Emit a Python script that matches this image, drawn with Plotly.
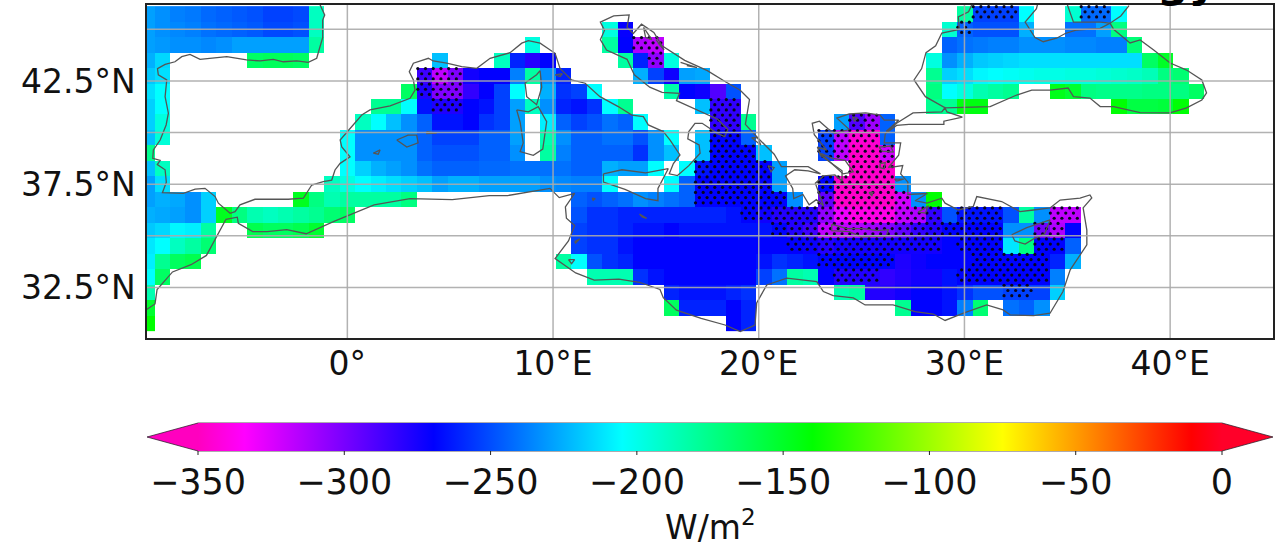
import plotly.graph_objects as go
import numpy as np

W, H = 1277, 547
# grid of the field: centres on multiples of 0.75 degrees
lon_start, lat_start, step = -9.75, 30.75, 0.75
n_lon, n_lat = 69, 21

# Net heat flux, W/m2: each row is a list of (first column index, values)
lat_45_75 = [(0,[-229,-233,-237,-239,-243,-245,-247,-249,-253,-253,-251,-189]),(53,[-181,-253,-253,-253,-205]),(60,[-193,-243,-243,-205])]
lat_45_00 = [(0,[-229,-233,-235,-237,-241,-243,-245,-247,-251,-251,-249,-189]),(30,[-197,-271]),(52,[-193,-245,-249,-249,-249,-225]),(60,[-241,-241,-229,-173])]
lat_44_25 = [(0,[-229,-231,-233,-233,-235,-233,-229,-229,-229,-229,-229,-181]),(25,[-197]),(30,[-181,-269,-314,-318]),(52,[-245,-241,-239,-237,-237,-233,-233,-233,-235,-235,-237,-237,-170])]
lat_43_50 = [(0,[-225,-215]),(7,[-165,-163,-163,-165]),(19,[-221]),(23,[-189,-261,-279,-269]),(31,[-181,-261,-306,-197]),(51,[-197,-233,-225,-219,-217,-215,-213,-213,-213,-213,-213,-213,-213,-213,-165,-150])]
lat_42_75 = [(0,[-219,-213]),(18,[-285,-318,-302,-274,-270,-270,-237,-181,-233,-261]),(32,[-225,-253,-273,-229,-227]),(51,[-177,-217,-213,-207,-205,-203,-201,-199,-199,-197,-197,-195,-193,-191,-187,-173,-169])]
lat_42_00 = [(0,[-213,-205]),(17,[-165,-277,-302,-302,-282,-270,-253,-205]),(26,[-225,-257,-253,-205]),(34,[-183,-269,-273,-290,-249]),(51,[-173,-205,-197,-185,-181,-177]),(59,[-146,-152,-173,-175,-175,-175,-173,-173,-173,-165])]
lat_41_25 = [(0,[-217,-205]),(15,[-177,-177,-205,-265,-277,-277,-269,-265,-253,-229,-189,-233,-261,-265,-257,-205,-177]),(36,[-221,-282,-282]),(51,[-177,-177,-144,-144]),(63,[-141,-157,-157,-155,-141])]
lat_40_50 = [(0,[-217,-197]),(14,[-189,-205,-221,-233,-245,-265,-265,-269,-257,-253,-229]),(26,[-209,-245,-253,-249,-241,-245,-205]),(37,[-282,-282,-177]),(45,[-229,-290,-310,-245])]
lat_39_75 = [(0,[-221,-195]),(13,[-205,-233,-233,-233,-233,-245,-253,-253,-253,-245,-245,-229]),(26,[-185,-233,-245,-245,-241,-241,-249,-233,-205]),(36,[-221,-269,-269,-245]),(44,[-253,-318,-345,-345,-245])]
lat_39_00 = [(0,[-177]),(13,[-205,-233,-233,-233,-233,-245,-249,-249,-249,-245,-245,-233]),(26,[-181,-237,-245,-245,-245,-245,-257,-233,-221]),(36,[-221,-269,-269,-269,-221]),(44,[-253,-318,-347,-347,-322])]
lat_38_25 = [(0,[-221,-189]),(13,[-205,-217,-225,-229,-233,-241,-245,-245,-245,-243,-243,-241,-241,-241,-241,-245,-245,-225,-229,-229,-205]),(35,[-205,-265,-269,-269,-269,-269,-229]),(46,[-347,-347,-347])]
lat_37_50 = [(0,[-229,-213]),(12,[-189,-197,-205,-209,-213,-217,-221,-229,-225,-225,-229,-229,-229,-229,-233,-235,-237,-237,-205]),(34,[-205,-245,-269,-269,-269,-269,-269,-229]),(44,[-269,-347,-347,-347,-347,-233])]
lat_36_75 = [(0,[-229,-225,-227,-233,-217]),(10,[-148,-173,-185,-181,-181,-181,-181,-173]),(28,[-245,-249,-245,-241,-233,-237,-241,-245,-269,-269,-269,-269,-269,-269,-233]),(44,[-294,-347,-347,-347,-347,-322,-233,-140])]
lat_36_00 = [(0,[-225,-227,-229,-233,-217,-148,-173,-185,-189,-185,-181,-177,-169,-165]),(28,[-249,-257,-257,-261,-261,-261,-261,-261,-261,-261,-265,-269,-273,-278,-278,-278,-306,-330,-340,-340,-340,-318,-314,-282,-249,-265,-265,-265,-249,-181,-233,-318,-318])]
lat_35_25 = [(0,[-219,-215,-207,-209,-181]),(7,[-160,-164,-164,-160,-152]),(28,[-253,-257,-257,-261,-265,-265,-269,-265,-265,-265,-265,-265,-265,-269,-278,-285,-318,-318,-314,-310,-302,-294,-282,-278,-269,-269,-269,-269,-233,-233,-298,-314,-269])]
lat_34_50 = [(0,[-211,-205,-189,-181,-169]),(28,[-253,-257,-257,-265,-269,-269,-269,-269,-269,-269,-269,-269,-269,-269,-270,-272,-278,-274,-274,-274,-274,-274,-274,-274,-269,-269,-269,-269,-211,-173,-269,-269,-245])]
lat_33_75 = [(0,[-209,-177,-164,-160]),(27,[-181,-205,-249,-257,-261,-269,-269,-269,-269,-269,-269,-269,-269,-265,-257,-261,-265,-269,-269,-269,-269,-269,-277,-273,-269,-269,-269,-269,-269,-269,-269,-269,-261,-225])]
lat_33_00 = [(0,[-205,-165]),(29,[-185,-185,-185,-257,-265,-269,-269,-269,-269,-269,-269,-253,-241,-181,-185,-269,-278,-278,-278,-282,-278,-274,-274,-265,-269,-269,-269,-269,-269,-269,-237])]
lat_32_25 = [(0,[-185]),(34,[-261,-265,-265,-265,-261,-257]),(45,[-185,-181,-278,-278,-274,-269,-269,-265,-257,-249,-249,-253,-253,-253,-217])]
lat_31_50 = [(0,[-152]),(34,[-164,-261,-261,-261,-269,-261]),(49,[-177,-269,-269,-265,-237,-169]),(56,[-241,-245,-233])]
lat_30_75 = [(0,[-140]),(38,[-269,-261])]
rows_south_to_north = [lat_30_75,lat_31_50,lat_32_25,lat_33_00,lat_33_75,lat_34_50,lat_35_25,lat_36_00,lat_36_75,lat_37_50,lat_38_25,lat_39_00,lat_39_75,lat_40_50,lat_41_25,lat_42_00,lat_42_75,lat_43_50,lat_44_25,lat_45_00,lat_45_75]

# significant cells (hatched): latitude -> inclusive column ranges
signif_cells = {
 45.75:[(54,56),(61,62)], 45.0:[(53,53)], 44.25:[(32,33)], 43.5:[(33,33)],
 42.75:[(18,20)], 42.0:[(18,20)], 41.25:[(19,20),(37,38)], 40.5:[(37,38),(46,47)],
 39.75:[(37,38),(44,47)], 39.0:[(37,39),(44,48)], 38.25:[(36,40),(46,48)],
 37.5:[(36,40),(44,48)], 36.75:[(36,41),(44,49)], 36.0:[(39,51),(53,55),(59,60)],
 35.25:[(41,55),(58,59)], 34.5:[(42,51),(53,55),(58,59)], 33.75:[(44,48),(54,58)],
 33.0:[(45,47),(53,58)], 32.25:[(56,57)],
}

# coastlines (lon, lat)
coast_west = [(-1.33,46.2),(-1.1,45.7),(-1.2,45.45),(-1.2,44.6),(-1.33,44.16),(-1.49,43.6),(-1.9,43.4),(-2.46,43.47),(-3.11,43.43),(-3.6,43.55),(-4.24,43.47),(-4.9,43.52),(-5.86,43.68),(-6.6,43.6),(-7.16,43.55),(-7.65,43.79),(-8.05,43.68),(-8.38,43.43),(-8.86,43.3),(-9.23,43.1),(-9.19,42.8),(-8.78,42.55),(-8.86,41.74),(-8.7,40.94),(-8.81,40.37),(-9.1,39.64),(-9.43,39.16),(-9.46,38.75),(-9.1,38.65),(-9.24,38.45),(-8.86,38.2),(-8.8,37.6),(-8.99,37.09),(-7.97,37.06),(-7.4,37.26),(-6.92,37.3),(-6.43,36.9),(-6.27,36.58),(-5.7,36.09),(-5.46,36.17),(-5.22,36.5),(-4.49,36.77),(-3.43,36.77),(-2.87,36.77),(-2.14,36.82),(-1.73,37.46),(-1.17,37.62),(-0.76,37.7),(-0.6,38.19),(-0.35,38.51),(0.13,38.83),(-0.27,39.3),(-0.35,39.64),(0.13,40.2),(0.7,40.85),(1.1,41.1),(2.08,41.29),(3.05,41.66),(3.29,42.06),(3.21,42.55),(3.01,42.95),(3.21,43.36),(3.94,43.6),(4.17,43.47),(4.83,43.36),(5.56,43.19),(6.29,43.11),(6.94,43.6),(7.91,43.87),(8.48,44.33),(8.8,44.45),(9.37,44.33),(10.1,43.84),(10.34,43.11),(10.9,42.55),(11.56,42.39),(12.28,41.74),(13.17,41.26),(13.83,40.85),(14.39,40.77),(14.63,40.37),(15.36,40.05),(15.69,39.64),(16.17,38.92),(15.85,38.5),(15.65,38.0),(16.05,37.92),(16.6,38.4),(17.15,39.0),(17.1,39.4),(16.55,39.7),(16.6,40.05),(16.9,40.45),(17.25,40.45),(18.0,39.95),(18.35,39.8),(18.5,40.15),(18.0,40.65),(16.9,41.15),(16.0,41.55),(16.15,41.9),(15.3,41.95),(14.7,42.2),(13.95,42.8),(13.6,43.55),(12.6,44.0),(12.3,44.5),(12.5,44.95),(12.3,45.35),(12.95,45.65),(13.7,45.7),(13.6,45.1),(13.9,44.8),(14.3,45.25),(14.9,44.85),(15.3,44.2),(16.4,43.5),(17.5,43.0),(18.4,42.45),(19.1,42.05),(19.55,41.6),(19.45,41.0),(19.35,40.4),(19.95,39.75),(20.4,39.3),(20.75,38.95),(21.1,38.35),(21.7,38.35),(22.4,38.35),(23.0,38.0),(22.4,38.15),(21.75,38.2),(21.3,37.9),(21.65,37.3),(21.7,36.8),(22.15,37.0),(22.45,36.5),(22.8,36.75),(23.15,36.45),(22.75,37.55),(23.15,37.9),(23.7,37.95),(24.05,37.65),(24.05,38.15),(23.0,38.9),(22.85,39.3),(23.3,39.15),(22.7,39.9),(22.6,40.45),(22.95,40.55),(23.35,40.2),(23.7,39.95),(24.4,40.15),(23.8,40.7),(24.4,40.9),(25.2,40.95),(25.9,40.85),(26.1,40.6),(26.8,40.6),(26.2,40.05)]
coast_marmara = [(26.2,40.05),(26.7,40.45),(27.5,40.95),(28.9,41.0),(29.05,41.2),(29.15,41.0),(29.9,40.75),(29.0,40.55),(29.0,40.4),(27.9,40.4),(27.3,40.4),(26.7,40.35),(26.15,39.95),(26.1,39.5),(26.9,39.5),(26.8,38.9),(26.3,38.3),(27.0,38.4),(26.9,38.0),(27.25,37.6),(27.25,37.0),(28.2,37.05),(27.6,36.7),(28.17,36.58),(28.9,36.82),(29.06,36.58),(29.7,36.25),(30.43,36.42),(30.6,36.9),(31.81,36.66),(32.7,36.17),(33.36,36.25),(34.16,36.35),(34.65,36.73),(35.62,36.83),(36.1,36.98),(36.19,36.83),(35.77,36.35),(35.95,35.28),(35.95,34.56),(35.14,33.35),(34.79,32.3),(34.16,31.25),(33.36,31.13),(32.22,31.17),(31.88,31.41),(31.08,31.65),(29.95,31.25),(29.06,30.9),(28.48,31.21),(27.6,31.33),(26.53,31.65),(25.17,31.65),(24.6,31.99),(23.62,32.1),(23.14,32.3),(22.82,32.78),(21.36,32.95),(20.39,32.62),(19.9,31.75),(19.82,30.68),(19.1,30.36),(18.36,30.68),(17.2,31.0),(16.0,31.4),(15.36,32.0),(15.2,32.4),(14.2,32.75),(13.2,32.9),(12.0,32.85),(11.1,33.2),(10.1,33.9),(10.75,34.75),(11.05,35.5),(10.65,35.85),(10.6,36.4),(11.05,37.05),(10.3,36.85),(9.85,37.3),(7.8,36.95),(6.9,36.95),(5.1,36.75),(3.05,36.8),(1.3,36.5),(-0.65,35.7),(-2.0,35.1),(-2.95,35.3),(-3.9,35.2),(-4.6,35.2),(-5.3,35.6),(-5.35,35.9),(-5.9,35.8),(-6.4,34.9),(-6.85,34.05),(-7.6,33.6),(-8.5,33.25),(-9.25,32.4),(-9.35,31.7),(-9.8,31.4)]
coast_black_sea = [(30.36,46.2),(30.2,45.85),(29.7,45.6),(29.75,45.0),(28.9,44.82),(28.6,44.2),(28.13,43.87),(27.92,43.1),(27.55,42.55),(28.1,41.74),(29.06,41.2),(30.29,41.22),(31.25,41.26),(32.54,41.82),(33.27,42.06),(34.16,42.06),(35.04,42.16),(35.3,41.74),(36.1,41.67),(36.6,41.26),(37.25,41.26),(38.54,40.97),(40.0,40.95),(40.8,41.2),(41.54,41.58),(41.77,41.92),(41.54,42.55),(40.8,43.03),(40.0,43.37),(39.2,44.0),(38.54,44.49),(38.05,44.34),(37.25,45.0),(37.08,45.3),(36.6,45.05),(35.46,44.97),(34.9,44.8),(34.48,44.57),(33.83,44.4),(33.43,44.6),(32.95,45.35),(33.5,46.0),(33.55,46.2)]
coast_azov = [(35.0,46.2),(35.3,45.35),(36.6,45.35),(37.08,45.3),(37.6,45.65),(38.0,46.15)]
isl_sicily = [(12.45,38.0),(13.35,38.2),(14.5,38.05),(15.6,38.25),(15.1,37.3),(15.1,36.7),(14.5,36.8),(13.5,37.25),(12.45,37.6),(12.45,38.0)]
isl_sardinia = [(8.23,41.1),(8.4,40.5),(8.55,39.5),(8.4,39.08),(9.04,38.9),(9.5,39.2),(9.69,40.53),(9.28,41.26),(8.8,41.0),(8.23,41.1)]
isl_corsica = [(9.37,43.0),(9.45,42.2),(9.2,41.35),(8.72,41.74),(8.64,42.4),(9.2,42.8),(9.37,43.0)]
isl_mallorca = [(2.4,39.64),(2.95,39.88),(3.37,39.88),(3.44,39.5),(2.89,39.3),(2.4,39.64)]
isl_menorca = [(3.86,40.05),(4.35,39.97),(3.86,39.95),(3.86,40.05)]
isl_ibiza = [(1.26,39.0),(1.59,39.16),(1.5,38.95),(1.26,39.0)]
isl_elba = [(10.1,42.8),(10.45,42.85),(10.35,42.72),(10.1,42.8)]
isl_crete = [(23.55,35.55),(24.3,35.35),(25.1,35.35),(25.75,35.25),(26.3,35.3),(26.2,35.0),(25.0,34.95),(24.4,35.2),(23.55,35.25),(23.55,35.55)]
isl_cyprus = [(32.3,35.05),(33.03,35.4),(34.16,35.77),(33.9,35.1),(33.36,34.85),(32.95,34.6),(32.45,34.75),(32.3,35.05)]
isl_rhodes = [(27.75,36.15),(28.25,36.45),(28.1,36.1),(27.75,36.15)]
isl_lesbos = [(25.85,39.3),(26.4,39.35),(26.55,39.05),(26.0,39.1),(25.85,39.3)]
isl_chios = [(25.9,38.5),(26.15,38.55),(26.1,38.25),(25.9,38.3),(25.9,38.5)]
isl_samos = [(26.6,37.75),(27.05,37.75),(26.7,37.65),(26.6,37.75)]
isl_euboea = [(23.0,39.0),(23.6,38.75),(24.2,38.65),(24.6,38.1),(24.1,38.0),(23.6,38.45),(23.0,39.0)]
isl_naxos = [(25.35,37.1),(25.55,37.1),(25.5,36.95),(25.35,37.1)]
isl_thasos = [(24.55,40.75),(24.8,40.7),(24.65,40.55),(24.55,40.75)]
isl_kefalonia = [(20.45,38.4),(20.75,38.3),(20.6,38.1),(20.45,38.4)]
isl_corfu = [(19.65,39.75),(19.95,39.75),(20.1,39.4),(19.65,39.75)]
isl_dalmatia = [(14.4,45.1),(14.5,44.6),(14.8,44.5),(14.4,45.1),(None,None),(15.0,44.5),(15.4,44.0),(15.1,44.35),(None,None),(16.2,43.4),(17.0,43.15),(16.5,43.25)]
isl_malta = [(14.2,36.05),(14.55,35.85),(14.35,35.9),(14.2,36.05)]
isl_pantelleria = [(11.9,36.82),(12.05,36.8),(11.95,36.72),(11.9,36.82)]
isl_kerkennah = [(11.05,34.72),(11.3,34.85),(11.1,34.65),(11.05,34.72)]
isl_djerba = [(10.75,33.85),(11.05,33.85),(10.9,33.65),(10.75,33.85)]
coasts = [coast_west,coast_marmara,coast_black_sea,coast_azov,isl_sicily,isl_sardinia,isl_corsica,isl_mallorca,isl_menorca,isl_ibiza,isl_elba,isl_crete,isl_cyprus,isl_rhodes,isl_lesbos,isl_chios,isl_samos,isl_euboea,isl_naxos,isl_thasos,isl_kefalonia,isl_corfu,isl_dalmatia,isl_malta,isl_pantelleria,isl_kerkennah,isl_djerba]

lon_ticks = [0,10,20,30,40]
lon_labels = ["0°","10°E","20°E","30°E","40°E"]
lat_ticks = [32.5,37.5,42.5]
lat_labels = ["32.5°N","37.5°N","42.5°N"]
lat_grid = [32.5,35,37.5,40,42.5,45]
cbar_ticks = [-350,-300,-250,-200,-150,-100,-50,0]

# gist_rainbow reversed between -350 and 0
cmap_stops = [(-350,"#ff00bf"),(-334,"#ff00ff"),(-269.5,"#0000ff"),(-205,"#00ffff"),(-140,"#00ff00"),(-75,"#ffff00"),(-10.5,"#ff0000"),(0,"#ff0029")]
colorscale = [[(v+350)/350,c] for v,c in cmap_stops]

lons = np.array([lon_start+step*i for i in range(n_lon)])
lats = np.array([lat_start+step*j for j in range(n_lat)])
z = np.full((n_lat,n_lon),np.nan)
for j,row in enumerate(rows_south_to_north):
    for first,vals in row:
        z[j,first:first+len(vals)] = vals

x0,x1,y0,y1 = 147,1273,338,5
lon_range = [-9.74,45.0]
lat_range = [30.05,46.18]
bar_l,bar_r,bar_t,bar_b = 198,1222,423,451

fig = go.Figure()
fig.add_trace(go.Heatmap(x=lons,y=lats,z=z,zmin=-350,zmax=0,colorscale=colorscale,hoverongaps=False,zsmooth=False,
    colorbar=dict(orientation="h",x=bar_l/W,xanchor="left",y=1-bar_t/H,yanchor="top",len=bar_r-bar_l,lenmode="pixels",thickness=bar_b-bar_t,thicknessmode="pixels",
        xpad=0,ypad=0,tickvals=cbar_ticks,ticks="",outlinewidth=0,
        tickfont=dict(size=35,family="DejaVu Sans",color="#111"))))

# hatching of the significant cells
hx,hy = [],[]
for k,la in enumerate(np.arange(30.1,46.2,0.25)):
    off = 0.1875 if k%2 else 0.0
    for lo in np.arange(-9.7+off,45,0.375):
        cj = round(float(la)/step)*step
        ci = int(round((lo-lon_start)/step))
        for a,b in signif_cells.get(cj,[]):
            if a<=ci<=b:
                hx.append(float(lo)); hy.append(float(la))
fig.add_trace(go.Scatter(x=hx,y=hy,mode="markers",marker=dict(size=3.2,color="#08061e"),hoverinfo="skip",showlegend=False))

cx,cy=[],[]
for seg in coasts:
    cx += [p[0] for p in seg]+[None]
    cy += [p[1] for p in seg]+[None]
fig.add_trace(go.Scatter(x=cx,y=cy,mode="lines",line=dict(color="#555555",width=1.3),hoverinfo="skip",showlegend=False,connectgaps=False))

gx,gy=[],[]
for t in lon_ticks:
    gx += [t,t,None]; gy += [lat_range[0],lat_range[1],None]
for t in lat_grid:
    gx += [lon_range[0],lon_range[1],None]; gy += [t,t,None]
fig.add_trace(go.Scatter(x=gx,y=gy,mode="lines",line=dict(color="rgba(170,170,170,0.9)",width=1.5),hoverinfo="skip",showlegend=False))

def py(v): return 1-v/H
def px(v): return v/W
edge = "rgba(40,30,40,0.75)"
mid = (bar_t+bar_b)/2
shapes=[
 dict(type="path",xref="paper",yref="paper",path=f"M {px(bar_l)} {py(bar_t)} L {px(147)} {py(mid)} L {px(bar_l)} {py(bar_b)}",fillcolor="#ff00bf",line=dict(color=edge,width=1)),
 dict(type="path",xref="paper",yref="paper",path=f"M {px(bar_r)} {py(bar_t)} L {px(1273)} {py(mid)} L {px(bar_r)} {py(bar_b)}",fillcolor="#ff0029",line=dict(color=edge,width=1)),
 dict(type="line",xref="paper",yref="paper",x0=px(bar_l),x1=px(bar_r),y0=py(bar_t),y1=py(bar_t),line=dict(color=edge,width=1)),
 dict(type="line",xref="paper",yref="paper",x0=px(bar_l),x1=px(bar_r),y0=py(bar_b),y1=py(bar_b),line=dict(color=edge,width=1)),
]
for t in cbar_ticks:
    tx = px(bar_l+(t+350)/350*(bar_r-bar_l))
    shapes.append(dict(type="line",xref="paper",yref="paper",x0=tx,x1=tx,y0=py(bar_b),y1=py(bar_b+4),line=dict(color="#222",width=1)))
annotations=[
 dict(text="W/m<sup>2</sup>",xref="paper",yref="paper",x=710/W,y=py(525),xanchor="center",yanchor="middle",showarrow=False,font=dict(size=33,family="DejaVu Sans",color="#111")),
 dict(text="<b>gy</b>",xref="paper",yref="paper",x=1187/W,y=py(9),xanchor="center",yanchor="bottom",showarrow=False,font=dict(size=44,family="DejaVu Sans",color="#000")),
]
axfont=dict(size=33,family="DejaVu Sans",color="#111")
fig.update_layout(width=W,height=H,margin=dict(l=0,r=0,t=0,b=0),paper_bgcolor="white",plot_bgcolor="white",showlegend=False,shapes=shapes,annotations=annotations,
  xaxis=dict(domain=[x0/W,x1/W],range=lon_range,tickvals=lon_ticks,ticktext=lon_labels,showgrid=False,zeroline=False,ticks="",ticklabelstandoff=-4,tickfont=axfont,showline=True,linecolor="#222",linewidth=1.5,mirror=True),
  yaxis=dict(domain=[1-y0/H,1-y1/H],range=lat_range,tickvals=lat_ticks,ticktext=lat_labels,showgrid=False,zeroline=False,ticks="",ticklabelstandoff=3,tickfont=axfont,showline=True,linecolor="#222",linewidth=1.5,mirror=True))
fig.write_html("out.html",post_script="document.body.style.margin='0';",config={"displayModeBar":False})
